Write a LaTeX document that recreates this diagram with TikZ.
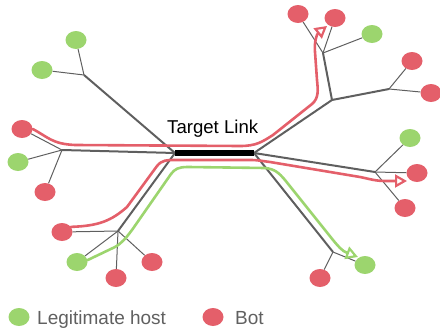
\documentclass[tikz,border=0pt]{standalone}
\usepackage{fontspec}
\setmainfont{Liberation Sans}
\usetikzlibrary{arrows.meta,shapes.geometric}
\definecolor{botred}{HTML}{E45F6A}
\definecolor{hostgreen}{HTML}{9CD56E}
\definecolor{linegray}{HTML}{5F5F5F}
\definecolor{textgray}{HTML}{606060}
\begin{document}
\begin{tikzpicture}[x=1pt,y=-1pt,
  host/.style={ellipse, fill=hostgreen, minimum width=21pt, minimum height=18pt, inner sep=0pt},
  bot/.style={ellipse, fill=botred, minimum width=21pt, minimum height=18pt, inner sep=0pt},
  trunk/.style={draw=linegray, line width=2pt},
  twig/.style={draw=linegray, line width=1pt},
  flowtip/.style={-{Triangle[open, length=12pt, width=13pt, line width=2.2pt]}},
  redflow/.style={draw=botred, line width=2.6pt, line cap=round, flowtip},
  greenflow/.style={draw=hostgreen, line width=2.6pt, line cap=round, flowtip},
  legendtext/.style={anchor=base west, inner sep=0pt, text=textgray, font=\fontsize{19}{23}\selectfont}
]
\useasboundingbox (0,0) rectangle (440,332);

% hubs
\coordinate (TL) at (175,153);
\coordinate (TR) at (254,153);
\coordinate (H1) at (84,75);
\coordinate (H2) at (62,150);
\coordinate (H3) at (118,231);
\coordinate (H4) at (332,100);
\coordinate (H5) at (323,53);
\coordinate (H6) at (389,89);
\coordinate (H7) at (375,172);
\coordinate (H8) at (333,252);

% hosts and bots
\node[host] (G1) at (76,40) {};
\node[host] (G2) at (42,70) {};
\node[bot]  (R1) at (22,129) {};
\node[host] (G3) at (18,162) {};
\node[bot]  (R2) at (45,192) {};
\node[bot]  (R3) at (62,232) {};
\node[host] (G4) at (77,262) {};
\node[bot]  (R4) at (116,278) {};
\node[bot]  (R5) at (152,262) {};
\node[bot]  (R6) at (298,14) {};
\node[bot]  (R7) at (335,18) {};
\node[host] (G5) at (372,34) {};
\node[bot]  (R8) at (412,61) {};
\node[bot]  (R9) at (431,93) {};
\node[host] (G6) at (410,138) {};
\node[bot]  (R10) at (417,173) {};
\node[bot]  (R11) at (405,208) {};
\node[bot]  (R12) at (320,278) {};
\node[host] (G7) at (365,265) {};

% trunks
\draw[trunk] (H1) -- (TL);
\draw[trunk] (H2) -- (TL);
\draw[trunk] (H3) -- (TL);
\draw[trunk] (TR) -- (H4);
\draw[trunk] (TR) -- (H7);
\draw[trunk] (TR) -- (H8);
\draw[trunk] (H4) -- (H5);
\draw[trunk] (H4) -- (H6);

% twigs
\draw[twig] (H1) -- (G1);
\draw[twig] (H1) -- (G2);
\draw[twig] (H2) -- (R1);
\draw[twig] (H2) -- (G3);
\draw[twig] (H2) -- (R2);
\draw[twig] (H3) -- (R3);
\draw[twig] (H3) -- (G4);
\draw[twig] (H3) -- (R4);
\draw[twig] (H3) -- (R5);
\draw[twig] (H5) -- (R6);
\draw[twig] (H5) -- (R7);
\draw[twig] (H5) -- (G5);
\draw[twig] (H6) -- (R8);
\draw[twig] (H6) -- (R9);
\draw[twig] (H7) -- (G6);
\draw[twig] (H7) -- (R10);
\draw[twig] (H7) -- (R11);
\draw[twig] (H8) -- (R12);
\draw[twig] (H8) -- (G7);

% target link
\draw[line width=6pt, black] (TL) -- (TR);
\node[anchor=base west, inner sep=0pt, font=\fontsize{18.6}{22}\selectfont] (title) at (167,133.5) {Target Link};

% flows
\coordinate (A1) at (327,26);
\coordinate (A2) at (407,181);
\coordinate (A3) at (358,257);
\draw[redflow] (R1.east) .. controls (48,137) and (52,144) .. (75,145) -- (240,146)
  .. controls (256,146) and (262,142) .. (273,135) -- (312,104)
  .. controls (319,98) and (318,90) .. (317,80) -- (315,52)
  .. controls (314,42) and (317,34) .. (A1);
\draw[redflow] (R3.30) .. controls (100,226) and (112,220) .. (127,207) -- (157,166)
  .. controls (162,160) and (166,160) .. (178,160) -- (250,160)
  .. controls (258,160) and (262,161) .. (270,162) -- (360,177)
  .. controls (370,179) and (375,181) .. (386,181) -- (A2);
\draw[greenflow] (G4.10) -- (115,247) .. controls (122,243) and (126,238) .. (132,230) -- (171,174)
  .. controls (175,169) and (178,167) .. (188,167) -- (265,168)
  .. controls (275,169) and (279,173) .. (285,180) -- (333,240)
  .. controls (338,246) and (342,251) .. (A3);

% legend
\node[host] (LG) at (19,317) {};
\node[legendtext] (LGT) at (37,324) {Legitimate host};
\node[bot] (LB) at (213,317) {};
\node[legendtext] (LBT) at (235,324) {Bot};
\end{tikzpicture}
\end{document}
